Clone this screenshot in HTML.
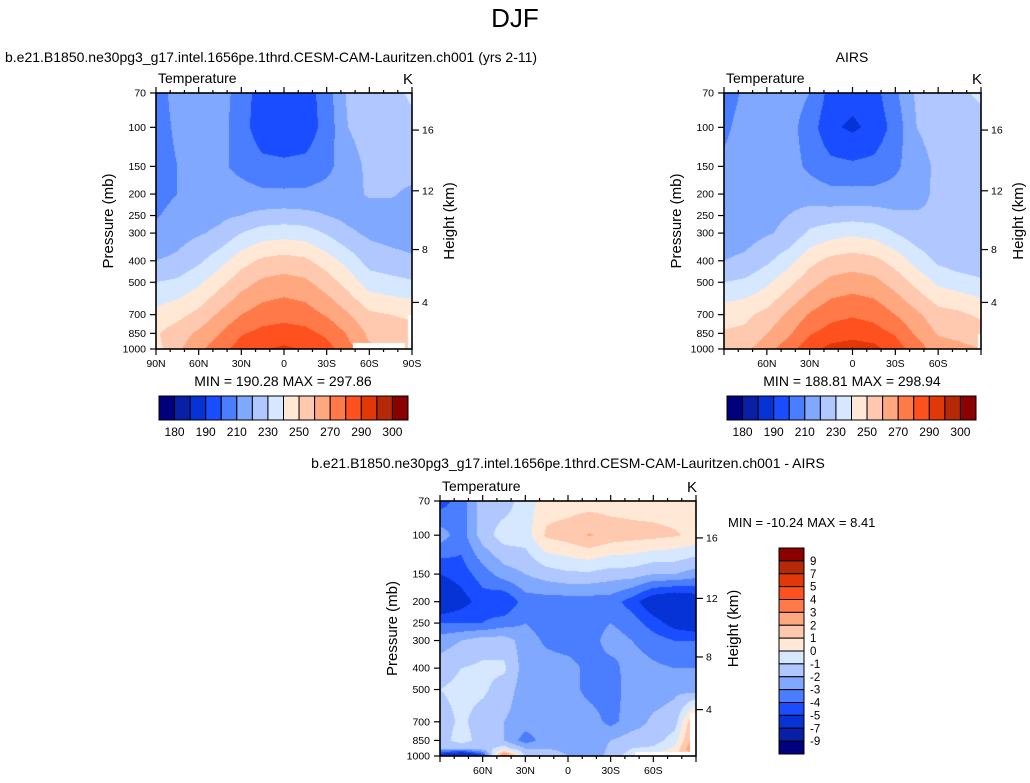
<!DOCTYPE html>
<html><head><meta charset="utf-8">
<style>
html,body{margin:0;padding:0;background:#fff;}
#wrap{position:relative;width:1030px;height:783px;overflow:hidden;font-family:"Liberation Sans",Arial,sans-serif;}
canvas{position:absolute;}
svg{position:absolute;left:0;top:0;}
</style></head>
<body>
<div id="wrap">
<canvas id="c1"></canvas>
<canvas id="c2"></canvas>
<canvas id="c3"></canvas>
<svg id="ov" width="1030" height="783"></svg>
</div>
<script>
// ---- data ----
const lats = [90,75,60,45,30,15,0,-15,-30,-45,-60,-75,-90];
const plevs = [70,100,150,200,250,300,400,500,700,850,925,1000];
const modelT = [
[205,214,215,215,205,195,194,195,205,222,225,226,232],
[205,212,215,214,204,194,193,194,204,220,224,225,227],
[205,210,214,212,207,203,202,203,207,216,222,223,224],
[206,210,215,215,214,212,212,212,214,217,221,221,218],
[209,214,216,218,220,223,224,223,220,217,216,216,215],
[213,216,219,222,230,235,236,235,229,222,218,216,214],
[220,222,228,236,246,252,254,252,245,236,226,224,222],
[230,232,238,247,256,262,264,262,255,246,235,233,231],
[243,247,253,262,270,275,277,275,269,261,252,250,248],
[249,255,262,270,279,283,284,283,278,269,258,256,254],
[248,256,265,273,282,286,288,286,281,271,260,258,257],
[246,258,268,276,285,289,292,289,284,274,262,260,260]];
const airsT = [
[205,212,215,215,210,196,194,196,208,222,225,228,232],
[208,214,215,214,205,192,188,193,204,220,224,225,226],
[212,214,215,214,208,203,202,203,208,216,222,223,224],
[214,215,216,216,215,213,213,213,214,217,222,222,222],
[215,216,218,220,224,225,226,225,222,221,221,221,221],
[215,216,219,222,232,236,238,236,230,224,222,221,221],
[220,222,228,236,247,253,255,253,246,236,228,224,222],
[230,232,238,247,256,263,265,263,256,247,238,235,232],
[246,248,253,262,271,277,279,277,270,262,254,252,248],
[251,252,260,268,279,284,286,284,279,268,259,257,255],
[254,255,263,272,283,289,291,289,282,272,262,260,258],
[256,258,266,276,286,293,296,293,285,275,265,262,260]];
const diffT = [
[-4.5,-3.5,-1.5,-1.5,-0.5,0.5,0.5,0.5,0.5,0.5,0.5,0.5,0.3],
[-2.5,-3.5,-1.5,-0.5,-0.5,1.2,1.5,2.1,1.6,1.4,1.3,1.1,0.8],
[-5,-4.5,-3.5,-2.5,-2,-1.5,-1.2,-1.2,-1.5,-1.5,-2,-2,-2.5],
[-6.5,-5.5,-4.5,-5,-3.5,-3.5,-3.5,-3.5,-3.5,-4.5,-6,-6.5,-6],
[-4,-4,-4,-3.5,-3,-3.5,-3.5,-3.5,-3,-3.5,-4.5,-5.5,-6],
[-2.5,-2,-1.5,-1.5,-2.5,-3.2,-3.5,-3.5,-2.5,-3,-3.5,-4,-4],
[-1.5,-1,-0.8,-0.8,-2.5,-2.5,-2.6,-3.3,-3.4,-2.5,-2.8,-3,-3],
[-1,-0.7,-0.8,-1.5,-2.5,-2.5,-2.6,-3.3,-3.5,-2.5,-2.5,-2.2,-2.5],
[-1.5,-0.8,-1.5,-2,-2.5,-2.5,-2.5,-2.5,-3.3,-2.5,-1.8,-1.5,2.5],
[-1.5,-0.5,-1.5,-2,-3.5,-2.5,-2.5,-2.5,-2,-1.5,-1.5,-0.5,3],
[-2,-2,-1.5,-0.5,-2,-2,-2.2,-2.8,-1.8,-1,-0.8,0.2,3.5],
[-6,-8,-5,4,-1,-1.5,-2,-3,-1.5,-0.5,0.5,1,2]];
const levelsT = [180,185,190,200,210,220,230,240,250,260,270,280,290,295,300];
const levelsD = [-9,-7,-5,-4,-3,-2,-1,0,1,2,3,4,5,7,9];
const tickLabelsT = ['180','190','210','230','250','270','290','300'];
const tickLabelsD = ['9','7','5','4','3','2','1','0','-1','-2','-3','-4','-5','-7','-9'];
const colors = ['#00007f','#0a1fa8','#0533d6','#1a4dff','#4a7dff','#80a8ff','#b0c8ff','#d6e8ff','#ffe8d6','#ffc9b0','#ffa880','#ff7a48','#ff5020','#e03808','#b52808','#8b0000'];
const pTicks = [70,100,150,200,250,300,400,500,700,850,1000];
const hTicks = [4,8,12,16];
const latTicks = [90,60,30,0,-30,-60,-90];
// missing regions [lat1,lat2,p1,p2]
const miss1 = [[-48.5,-85,941,1000],[-87,-90,702,1000]];
const miss2 = [[-88,-90,860,1000]];
const miss3 = [[-47,-87,960,1000],[-86,-90,640,1000]];

const NS='http://www.w3.org/2000/svg';
const ov=document.getElementById('ov');
function el(tag,attrs,parent,txt){const e=document.createElementNS(NS,tag);for(const k in attrs)e.setAttribute(k,attrs[k]);if(txt!==undefined)e.textContent=txt;(parent||ov).appendChild(e);return e;}
function hex(c){return [parseInt(c.substr(1,2),16),parseInt(c.substr(3,2),16),parseInt(c.substr(5,2),16)];}
const rgb=colors.map(hex);
const LP0=Math.log(70), LP1=Math.log(1000);
function pressAtZ(z){ if(z<=11) return 1013.25*Math.pow(1-2.25577e-5*z*1000,5.25588); return 226.32*Math.exp(-(z-11)*1000/6341.6);}
function latLabel(l){return l===0?'0':(Math.abs(l)+(l>0?'N':'S'));}

function panel(id,cv,X,Y,W,H,grid,levels,miss,opts){
  const g=el('g',{});
  const c=document.getElementById(cv);c.width=W;c.height=H;c.style.left=X+'px';c.style.top=Y+'px';
  const ctx=c.getContext('2d');const img=ctx.createImageData(W,H);
  const lps=plevs.map(Math.log);
  for(let j=0;j<H;j++){
    const lp=LP0+(j+0.5)/H*(LP1-LP0);
    let r=0;while(r<lps.length-2&&lp>lps[r+1])r++;
    const fr=Math.min(1,Math.max(0,(lp-lps[r])/(lps[r+1]-lps[r])));
    for(let i=0;i<W;i++){
      const lat=90-(i+0.5)/W*180;
      const fx=(90-lat)/15;let k=Math.min(lats.length-2,Math.floor(fx));const fc=fx-k;
      const v=(grid[r][k]*(1-fc)+grid[r][k+1]*fc)*(1-fr)+(grid[r+1][k]*(1-fc)+grid[r+1][k+1]*fc)*fr;
      let b=0;while(b<levels.length&&v>=levels[b])b++;
      let col=rgb[b];
      const p=Math.exp(lp);
      for(const m of miss){ if(lat<=m[0]&&lat>=m[1]&&p>=m[2]&&p<=m[3]) col=[255,255,255]; }
      const o=(j*W+i)*4;img.data[o]=col[0];img.data[o+1]=col[1];img.data[o+2]=col[2];img.data[o+3]=255;
    }
  }
  ctx.putImageData(img,0,0);
  const py=p=>Y+(Math.log(p)-LP0)/(LP1-LP0)*H;
  const lx=l=>X+(90-l)/180*W;
  el('rect',{x:X,y:Y,width:W,height:H,fill:'none',stroke:'#000','stroke-width':1.6,},g);
  for(let l=90;l>=-90;l-=10){const x=lx(l);const maj=(l%30===0);
    el('line',{x1:x,x2:x,y1:Y+H,y2:Y+H+(maj?6:3),stroke:'#000','stroke-width':1.2},g);
    el('line',{x1:x,x2:x,y1:Y,y2:Y-(maj?6:3),stroke:'#000','stroke-width':1.2},g);}
  latTicks.forEach(l=>{ if(opts.noEdge&&Math.abs(l)===90)return;
    const t=el('text',{x:lx(l),y:Y+H+18,'font-size':10.5,'text-anchor':'middle'},g,latLabel(l));
    });
  pTicks.forEach(p=>{const y=py(p);
    el('line',{x1:X-6,x2:X,y1:y,y2:y,stroke:'#000','stroke-width':1.2},g);
    const t=el('text',{x:X-10,y:y+3.5,'font-size':10.5,'text-anchor':'end'},g,String(p));
    });
  hTicks.forEach(h=>{const y=py(pressAtZ(h));
    el('line',{x1:X+W,x2:X+W+7,y1:y,y2:y,stroke:'#000','stroke-width':1.2},g);
    const t=el('text',{x:X+W+10,y:y+3.5,'font-size':10.5},g,String(h));
    });
  el('text',{x:X+2,y:Y-10,'font-size':14,},g,'Temperature');
  el('text',{x:X+W-9,y:Y-9,'font-size':15,},g,'K');
  el('text',{x:0,y:0,'font-size':15,'text-anchor':'middle',transform:`translate(${X-43},${Y+H/2}) rotate(-90)`,},g,'Pressure (mb)');
  el('text',{x:0,y:0,'font-size':15,'text-anchor':'middle',transform:`translate(${X+W+42},${Y+H/2}) rotate(-90)`,},g,'Height (km)');
}

function hbar(id,X,Y,W,H){
  const g=el('g',{});
  const bw=W/colors.length;
  colors.forEach((c,i)=>{const r=el('rect',{x:X+i*bw,y:Y,width:bw,height:H,fill:c,stroke:'#000','stroke-width':1},g);
    });
  const labIdx=[0,2,4,6,8,10,12,14];
  labIdx.forEach((b,i)=>{const t=el('text',{x:X+(b+1)*bw,y:Y+H+16,'font-size':12,'text-anchor':'middle'},g,tickLabelsT[i]);
    });
}
function vbar(id,X,Y,W,H){
  const g=el('g',{});
  const bh=H/colors.length;
  colors.slice().reverse().forEach((c,i)=>{const r=el('rect',{x:X,y:Y+i*bh,width:W,height:bh,fill:c,stroke:'#000','stroke-width':1},g);
    });
  tickLabelsD.forEach((s,i)=>{const t=el('text',{x:X+W+6,y:Y+(i+1)*bh+4,'font-size':11.5},g,s);
    });
}

el('text',{x:515,y:27,'font-size':26,'text-anchor':'middle',},ov,'DJF');
el('text',{x:5,y:62,'font-size':14,},ov,'b.e21.B1850.ne30pg3_g17.intel.1656pe.1thrd.CESM-CAM-Lauritzen.ch001 (yrs 2-11)');
el('text',{x:852,y:62,'font-size':14,'text-anchor':'middle',},ov,'AIRS');
el('text',{x:568,y:468,'font-size':14,'text-anchor':'middle',},ov,'b.e21.B1850.ne30pg3_g17.intel.1656pe.1thrd.CESM-CAM-Lauritzen.ch001 - AIRS');

panel('model-panel','c1',156,93,256,256,modelT,levelsT,miss1,{});
panel('airs-panel','c2',724,93,257,256,airsT,levelsT,miss2,{noEdge:true});
panel('difference-panel','c3',440,501,256,255,diffT,levelsD,miss3,{noEdge:true});

el('text',{x:283,y:386,'font-size':14,'text-anchor':'middle',},ov,'MIN = 190.28  MAX = 297.86');
el('text',{x:852,y:386,'font-size':14,'text-anchor':'middle',},ov,'MIN = 188.81  MAX = 298.94');
el('text',{x:728,y:527,'font-size':13,},ov,'MIN = -10.24  MAX =   8.41');

hbar('model-colorbar',159,396,249,24);
hbar('airs-colorbar',727,396,249,24);
vbar('difference-colorbar',779,548,25,206);
</script>
</body></html>
